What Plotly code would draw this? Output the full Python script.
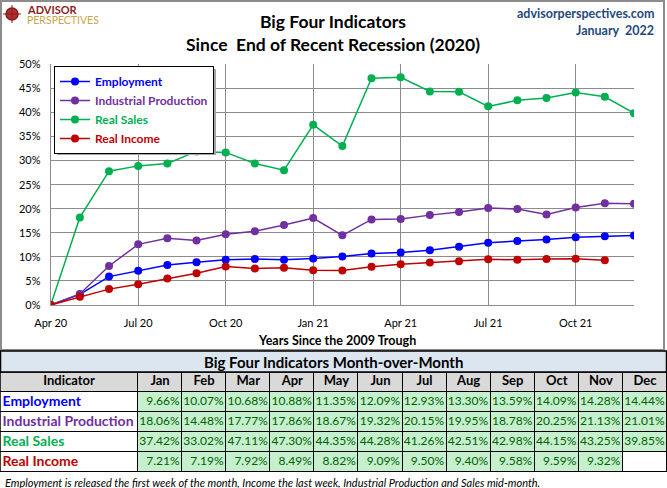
import plotly.graph_objects as go

W, H = 667, 488

months = ["Apr 20", "May 20", "Jun 20", "Jul 20", "Aug 20", "Sep 20", "Oct 20", "Nov 20", "Dec 20",
          "Jan 21", "Feb 21", "Mar 21", "Apr 21", "May 21", "Jun 21", "Jul 21", "Aug 21",
          "Sep 21", "Oct 21", "Nov 21", "Dec 21"]
tick_labels = ["Apr 20", "Jul 20", "Oct 20", "Jan 21", "Apr 21", "Jul 21", "Oct 21"]

employment = [0, 2.2, 5.9, 7.1, 8.3, 8.9, 9.4, 9.55, 9.4,
              9.66, 10.07, 10.68, 10.88, 11.35, 12.09, 12.93, 13.30, 13.59, 14.09, 14.28, 14.44]
industrial = [0, 2.3, 8.1, 12.6, 13.85, 13.4, 14.7, 15.3, 16.6,
              18.06, 14.48, 17.77, 17.86, 18.67, 19.32, 20.15, 19.95, 18.78, 20.25, 21.13, 21.01]
sales = [0, 18.2, 27.8, 28.9, 29.4, 31.9, 31.7, 29.4, 28.0,
         37.42, 33.02, 47.11, 47.30, 44.35, 44.28, 41.26, 42.51, 42.98, 44.15, 43.25, 39.85]
income = [0, 1.7, 3.3, 4.3, 5.5, 6.6, 8.0, 7.6, 7.75,
          7.21, 7.19, 7.92, 8.49, 8.82, 9.09, 9.50, 9.40, 9.58, 9.59, 9.32, None]

series_names = ["Employment", "Industrial Production", "Real Sales", "Real Income"]
series_colors = ["#0000ff", "#7030a0", "#00b050", "#c00000"]
series_values = [employment, industrial, sales, income]

table_months = ["Jan", "Feb", "Mar", "Apr", "May", "Jun", "Jul", "Aug", "Sep", "Oct", "Nov", "Dec"]
table_header = ["Indicator"] + table_months
column_widths = [138] + [44.08] * 12

FONT = "Lato"


def X(px):
    return px / W


def Y(py):
    return 1 - py / H


fig = go.Figure()

# ---------------- line chart ----------------
for name, color, vals in zip(series_names, series_colors, series_values):
    fig.add_trace(go.Scatter(
        x=months, y=vals, mode="lines+markers",
        name=f"<b><span style='color:{color}'>{name}</span></b>",
        line=dict(color=color, width=1.5),
        marker=dict(color=color, size=8),
        xaxis="x", yaxis="y",
    ))

# ---------------- table (heatmap grid + text) ----------------
n = len(table_months)
edges = [0.0]
for w in column_widths:
    edges.append(edges[-1] + w)
row_edges = [r - 0.5 for r in range(len(series_names) + 2)]

cell_text = []
for vals in series_values:
    cell_text.append(["" if v is None else f"{v:.2f}%" for v in vals[-n:]])

# fill codes: 0 white, 1 gray header, 2 green value cell
z = [[1] * (n + 1)]
for r in range(len(series_names)):
    z.append([0] + [0 if cell_text[r][c] == "" else 2 for c in range(n)])

fig.add_trace(go.Heatmap(
    x=edges, y=row_edges, z=z, zmin=0, zmax=2,
    colorscale=[[0, "#ffffff"], [0.5, "#d9d9d9"], [1, "#c6efce"]],
    showscale=False, xgap=1, ygap=1, hoverinfo="skip",
    xaxis="x2", yaxis="y2",
))

tx, ty, tt, tpos, tcol, tsize = [], [], [], [], [], []
for c, h in enumerate(table_header):
    tx.append((edges[c] + edges[c + 1]) / 2)
    ty.append(0)
    tt.append(f"<b>{h}</b>")
    tpos.append("middle center")
    tcol.append("black")
    tsize.append(13)
for r, (nm, col) in enumerate(zip(series_names, series_colors)):
    tx.append(edges[0] + 2.5)
    ty.append(r + 1)
    tt.append(f"<b>{nm}</b>")
    tpos.append("middle right")
    tcol.append(col)
    tsize.append(14)
    for c in range(n):
        tx.append(edges[c + 2] - 2.5)
        ty.append(r + 1)
        tt.append(cell_text[r][c])
        tpos.append("middle left")
        tcol.append("#006100")
        tsize.append(12)

fig.add_trace(go.Scatter(
    x=tx, y=ty, text=tt, mode="text", textposition=tpos,
    textfont=dict(family=FONT, color=tcol, size=tsize),
    hoverinfo="skip", showlegend=False, cliponaxis=False,
    xaxis="x2", yaxis="y2",
))

shapes = [
    # chart frame
    dict(type="rect", xref="paper", yref="paper", x0=X(1), x1=X(664), y0=Y(350), y1=Y(1),
         line=dict(color="#8c8c8c", width=2), fillcolor="rgba(0,0,0,0)", layer="below"),
    # legend shadow
    dict(type="rect", xref="paper", yref="paper", x0=X(57), x1=X(216), y0=Y(155), y1=Y(69),
         line=dict(width=0), fillcolor="#a6a6a6", layer="above"),
    # table grid underlay (shows through cell gaps as borders)
    dict(type="rect", xref="x2", yref="y2", x0=edges[0], x1=edges[-1], y0=row_edges[0], y1=row_edges[-1],
         line=dict(width=0), fillcolor="#000000", layer="below"),
    dict(type="rect", xref="x2", yref="y2", x0=edges[0], x1=edges[-1], y0=row_edges[0], y1=row_edges[-1],
         line=dict(color="#000000", width=1.5), fillcolor="rgba(0,0,0,0)", layer="above"),
    # table title row
    dict(type="rect", xref="paper", yref="paper", x0=X(0.5), x1=X(666.5), y0=Y(372), y1=Y(351),
         line=dict(color="#000000", width=1.5), fillcolor="#dce6f1"),
    # logo compass
    dict(type="circle", xref="paper", yref="paper", x0=X(6), x1=X(18), y0=Y(20), y1=Y(8),
         line=dict(color="#8b1c1c", width=1.5), fillcolor="#b03030"),
    dict(type="line", xref="paper", yref="paper", x0=X(12), x1=X(12), y0=Y(23), y1=Y(5),
         line=dict(color="#8b1c1c", width=1)),
    dict(type="line", xref="paper", yref="paper", x0=X(3), x1=X(21), y0=Y(14), y1=Y(14),
         line=dict(color="#8b1c1c", width=1)),
]


def ann(text, x, y, size, color="black", xanchor="center", family=FONT):
    return dict(text=text, x=X(x), y=Y(y), xref="paper", yref="paper",
                xanchor=xanchor, yanchor="middle", showarrow=False,
                font=dict(family=family, size=size, color=color))


annotations = [
    ann("<b>Big Four Indicators</b>", 333, 22, 17.5),
    ann("<b>Since  End of Recent Recession (2020)</b>", 333, 45, 17.5),
    ann("<b>advisorperspectives.com</b>", 656, 14, 12.5, "#1f497d", "right"),
    ann("<b>January  2022</b>", 656, 31, 12.5, "#1f497d", "right"),
    ann("<b>ADVISOR</b>", 25, 10, 11, "#8b1c1c", "left"),
    ann("PERSPECTIVES", 25, 20, 10.5, "#c9a54a", "left"),
    ann("<b>Years Since the 2009 Trough</b>", 337, 340, 12.5),
    ann("<b>Big Four Indicators Month-over-Month</b>", 333, 362, 15),
    ann("<i>Employment is released the first week of the month, Income the last week, Industrial Production and Sales mid-month.</i>",
        3, 482, 11, "black", "left"),
]

fig.update_layout(
    width=W, height=H,
    margin=dict(l=0, r=0, t=0, b=0, pad=0, autoexpand=False),
    paper_bgcolor="white", plot_bgcolor="white",
    font=dict(family=FONT, size=11, color="black"),
    showlegend=True,
    legend=dict(x=X(54), y=Y(66), xanchor="left", yanchor="top",
                bgcolor="white", bordercolor="black", borderwidth=1,
                font=dict(family=FONT, size=12), tracegroupgap=0),
    xaxis=dict(domain=[X(50.7), X(634)], type="category", range=[0, 20],
               tickvals=tick_labels, ticktext=tick_labels, automargin=False,
               ticklabelstandoff=8,
               showgrid=True, gridcolor="#8c8c8c", gridwidth=1,
               showline=True, linecolor="#8c8c8c", linewidth=1,
               ticks="", tickfont=dict(family=FONT, size=11), anchor="y"),
    yaxis=dict(domain=[Y(305), Y(64.3)], range=[0, 50], dtick=5, ticksuffix="%",
               automargin=False, ticklabelstandoff=7,
               showgrid=True, gridcolor="#8c8c8c", gridwidth=1,
               showline=True, linecolor="#8c8c8c", linewidth=1, zeroline=False,
               ticks="", tickfont=dict(family=FONT, size=11), anchor="x"),
    xaxis2=dict(domain=[0, 1], range=[edges[0], edges[-1]], visible=False,
                fixedrange=True, anchor="y2", automargin=False),
    yaxis2=dict(domain=[Y(472), Y(372)], range=[row_edges[-1], row_edges[0]], visible=False,
                fixedrange=True, anchor="x2", automargin=False),
    shapes=shapes, annotations=annotations,
)

fig.write_html("out.html", config={"displayModeBar": False},
               post_script="document.body.style.margin='0px';document.body.style.overflow='hidden';")
